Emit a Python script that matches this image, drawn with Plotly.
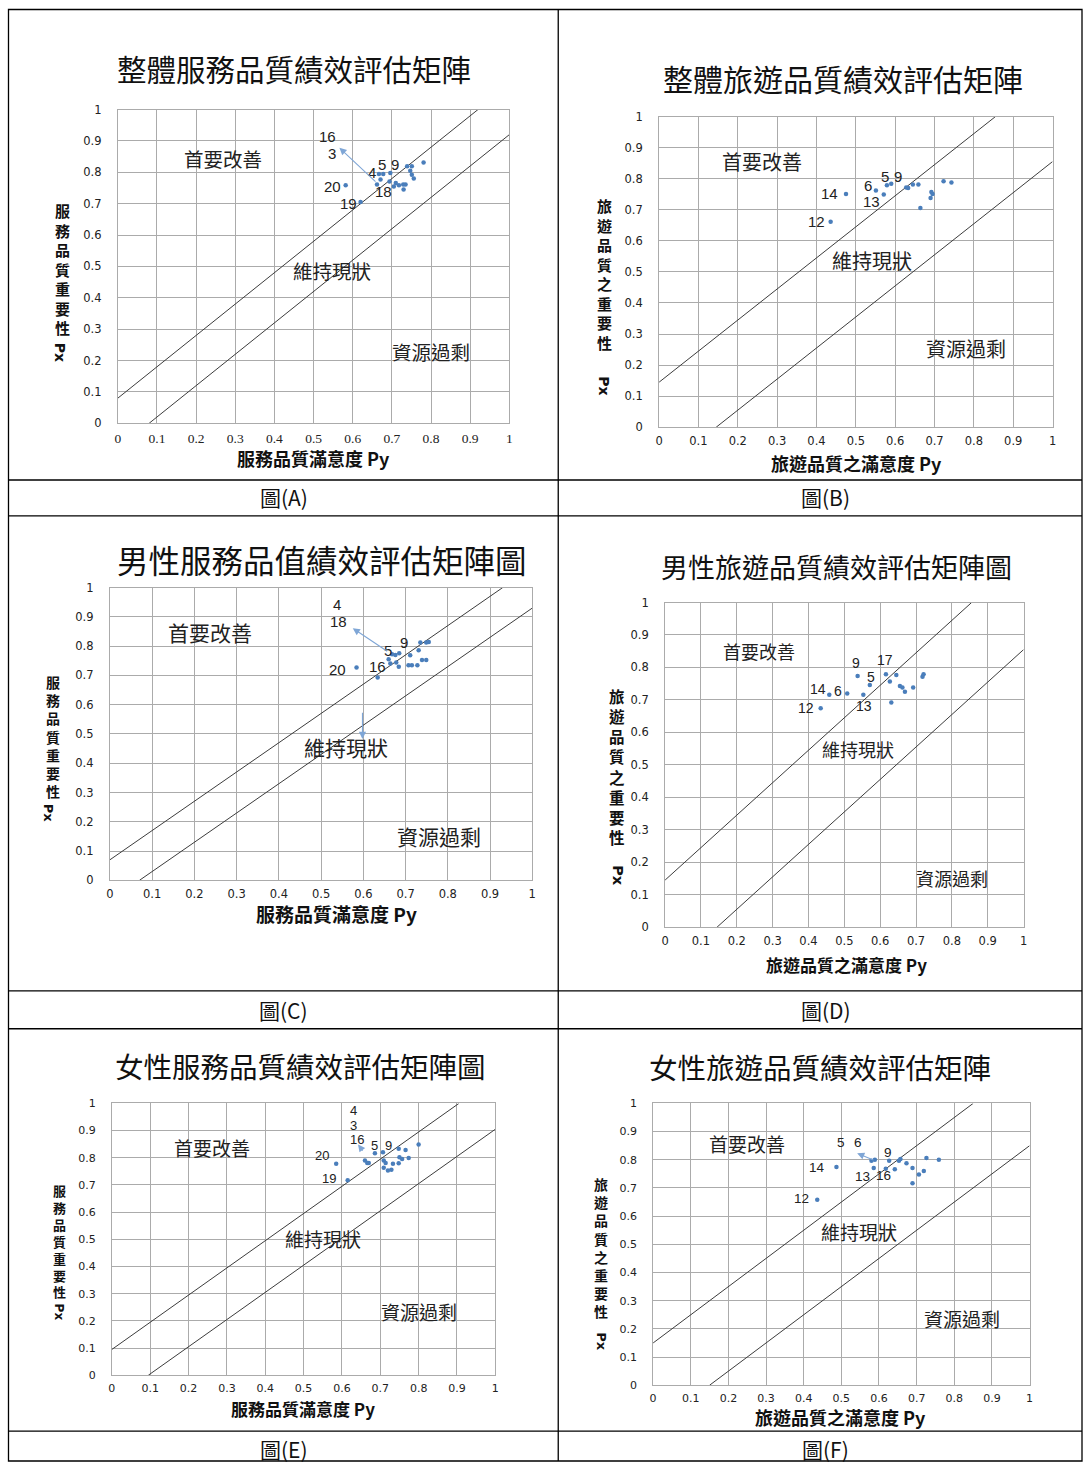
import plotly.graph_objects as go

W, H = 1086, 1468
CJK = "Noto Sans CJK TC"

# ---------------- data ----------------
TICK_VALS = [0, 0.1, 0.2, 0.3, 0.4, 0.5, 0.6, 0.7, 0.8, 0.9, 1]
TICK_TEXT = ["0", "0.1", "0.2", "0.3", "0.4", "0.5", "0.6", "0.7", "0.8", "0.9", "1"]

TITLES = ["整體服務品質績效評估矩陣", "整體旅遊品質績效評估矩陣", "男性服務品值績效評估矩陣圖",
          "男性旅遊品質績效評估矩陣圖", "女性服務品質績效評估矩陣圖", "女性旅遊品質績效評估矩陣"]
CAPTIONS = ["圖(A)", "圖(B)", "圖(C)", "圖(D)", "圖(E)", "圖(F)"]
X_TITLES = ["服務品質滿意度 Py", "旅遊品質之滿意度 Py", "服務品質滿意度 Py",
            "旅遊品質之滿意度 Py", "服務品質滿意度 Py", "旅遊品質之滿意度 Py"]
Y_TITLES = ["服務品質重要性", "旅遊品質之重要性", "服務品質重要性",
            "旅遊品質之重要性", "服務品質重要性", "旅遊品質之重要性"]
REGION_NAMES = ["首要改善", "維持現狀", "資源過剩"]

# diagonal band half-width for each panel
BAND = [0.08, 0.145, 0.07, 0.145, 0.095, 0.15]

A_X = [0.582, 0.620, 0.662, 0.667, 0.671, 0.678, 0.694, 0.696, 0.718, 0.729, 0.735, 0.730, 0.739, 0.751, 0.747, 0.751, 0.756, 0.781, 0.710, 0.705]
A_Y = [0.759, 0.705, 0.761, 0.795, 0.777, 0.795, 0.771, 0.798, 0.759, 0.761, 0.761, 0.745, 0.819, 0.819, 0.805, 0.792, 0.780, 0.831, 0.766, 0.755]

B_X = [0.475, 0.436, 0.551, 0.571, 0.579, 0.590, 0.628, 0.633, 0.645, 0.659, 0.664, 0.692, 0.695, 0.690, 0.723, 0.743]
B_Y = [0.751, 0.661, 0.762, 0.749, 0.779, 0.784, 0.772, 0.770, 0.781, 0.781, 0.706, 0.757, 0.751, 0.738, 0.792, 0.788]

C_X = [0.584, 0.634, 0.668, 0.676, 0.685, 0.664, 0.678, 0.684, 0.711, 0.731, 0.735, 0.749, 0.755, 0.739, 0.749, 0.707, 0.715, 0.728, 0.660]
C_Y = [0.727, 0.693, 0.772, 0.770, 0.776, 0.741, 0.744, 0.730, 0.769, 0.786, 0.812, 0.812, 0.814, 0.753, 0.753, 0.735, 0.735, 0.735, 0.755]

D_X = [0.537, 0.571, 0.616, 0.627, 0.645, 0.655, 0.662, 0.669, 0.692, 0.718, 0.721, 0.631, 0.553, 0.508, 0.458, 0.434]
D_Y = [0.774, 0.746, 0.779, 0.757, 0.777, 0.743, 0.738, 0.725, 0.738, 0.771, 0.779, 0.692, 0.716, 0.720, 0.716, 0.674]

E_X = [0.585, 0.615, 0.660, 0.666, 0.670, 0.686, 0.707, 0.709, 0.714, 0.709, 0.720, 0.729, 0.733, 0.748, 0.766, 0.750, 0.757, 0.774, 0.748, 0.800]
E_Y = [0.778, 0.717, 0.790, 0.781, 0.781, 0.817, 0.820, 0.790, 0.781, 0.763, 0.753, 0.756, 0.778, 0.833, 0.829, 0.802, 0.796, 0.799, 0.780, 0.849]

F_X = [0.487, 0.436, 0.580, 0.589, 0.586, 0.618, 0.627, 0.642, 0.653, 0.657, 0.673, 0.689, 0.689, 0.706, 0.719, 0.726, 0.759]
F_Y = [0.774, 0.658, 0.797, 0.800, 0.771, 0.768, 0.797, 0.766, 0.797, 0.803, 0.788, 0.771, 0.717, 0.748, 0.760, 0.806, 0.800]

# point labels (text, x, y) in data units
A_LABELS = [("16", 0.535, 0.914), ("3", 0.548, 0.860), ("4", 0.648, 0.798), ("5", 0.675, 0.826),
            ("9", 0.709, 0.826), ("20", 0.548, 0.756), ("18", 0.679, 0.740), ("19", 0.589, 0.702)]
B_LABELS = [("5", 0.574, 0.808), ("9", 0.607, 0.808), ("6", 0.530, 0.779), ("14", 0.434, 0.751),
            ("13", 0.540, 0.728), ("12", 0.400, 0.661)]
C_LABELS = [("4", 0.538, 0.942), ("18", 0.542, 0.883), ("9", 0.697, 0.812), ("5", 0.659, 0.786),
            ("16", 0.633, 0.730), ("20", 0.538, 0.721)]
D_LABELS = [("9", 0.532, 0.815), ("17", 0.613, 0.822), ("5", 0.573, 0.772), ("14", 0.427, 0.733),
            ("6", 0.483, 0.728), ("12", 0.393, 0.675), ("13", 0.554, 0.682)]
E_LABELS = [("4", 0.631, 0.975), ("3", 0.631, 0.918), ("16", 0.640, 0.866), ("5", 0.685, 0.845),
            ("9", 0.721, 0.845), ("20", 0.549, 0.808), ("19", 0.566, 0.723)]
F_LABELS = [("5", 0.500, 0.862), ("6", 0.545, 0.862), ("9", 0.624, 0.827), ("14", 0.436, 0.774),
            ("13", 0.556, 0.741), ("16", 0.613, 0.745), ("12", 0.394, 0.664)]

# arrows (tail_x, tail_y, head_x, head_y)
A_ARROWS = [(0.662, 0.766, 0.566, 0.878)]
B_ARROWS = []
C_ARROWS = [(0.660, 0.779, 0.575, 0.861), (0.598, 0.578, 0.598, 0.483)]
D_ARROWS = []
E_ARROWS = [(0.657, 0.821, 0.642, 0.849)]
F_ARROWS = [(0.589, 0.797, 0.542, 0.823)]

# region label positions (data units) per panel: [首要改善, 維持現狀, 資源過剩]
REGION_POS = [
    [(0.268, 0.844), (0.546, 0.486), (0.800, 0.230)],
    [(0.261, 0.856), (0.540, 0.538), (0.779, 0.253)],
    [(0.236, 0.847), (0.558, 0.456), (0.780, 0.150)],
    [(0.262, 0.850), (0.538, 0.549), (0.800, 0.150)],
    [(0.260, 0.839), (0.550, 0.502), (0.800, 0.234)],
    [(0.249, 0.859), (0.546, 0.544), (0.820, 0.237)],
]

# ---------------- layout (pixel geometry) ----------------
PANELS = [
    dict(xs=A_X, ys=A_Y, labels=A_LABELS, arrows=A_ARROWS, box=(117, 509, 108, 423),
         title=(293, 66, 29.5), xt=(313, 458, 18), yt=(62, 268, 15, 60, 352), cap=(283, 497),
         reg_fs=19.5, lab_fs=15, xtick_font=("Liberation Serif", 13.5), ytick_fs=11.5),
    dict(xs=B_X, ys=B_Y, labels=B_LABELS, arrows=B_ARROWS, box=(659, 1053, 115, 427),
         title=(843, 76, 30), xt=(857, 463, 18), yt=(604, 273.5, 15, 603, 385), cap=(826, 497),
         reg_fs=20, lab_fs=15, xtick_font=("DejaVu Sans", 11.5), ytick_fs=11.5),
    dict(xs=C_X, ys=C_Y, labels=C_LABELS, arrows=C_ARROWS, box=(109, 532, 588, 882),
         title=(321, 559, 31.5), xt=(336, 915, 19), yt=(52, 737.5, 14, 47, 815), cap=(283, 1012),
         reg_fs=21, lab_fs=15, xtick_font=("DejaVu Sans", 11.5), ytick_fs=11.5),
    dict(xs=D_X, ys=D_Y, labels=D_LABELS, arrows=D_ARROWS, box=(665, 1024, 603, 929),
         title=(837, 567, 27), xt=(847, 966, 17), yt=(617, 768, 15.5, 617, 877), cap=(826, 1012),
         reg_fs=18, lab_fs=14, xtick_font=("DejaVu Sans", 11.5), ytick_fs=11.5),
    dict(xs=E_X, ys=E_Y, labels=E_LABELS, arrows=E_ARROWS, box=(111, 495, 1106, 1379),
         title=(300, 1068, 28.5), xt=(302, 1412, 17), yt=(59, 1244.5, 13, 59, 1316), cap=(283, 1453),
         reg_fs=19, lab_fs=13, xtick_font=("DejaVu Sans", 11), ytick_fs=11),
    dict(xs=F_X, ys=F_Y, labels=F_LABELS, arrows=F_ARROWS, box=(653, 1030, 1106, 1389),
         title=(820, 1069, 28.5), xt=(841, 1421, 18), yt=(601, 1250.5, 14, 601, 1345), cap=(826, 1453),
         reg_fs=19, lab_fs=13.5, xtick_font=("DejaVu Sans", 11), ytick_fs=11),
]

# compensation for how the page lands in the photograph (measured)
OX, SX = 3.0, 0.994
OY, SY = 5.0, 0.9946


def px(x):
    v = ((x - OX) / SX) / W
    return min(max(v, 0.0), 1.0)


def py(y):
    v = 1 - ((y - OY) / SY) / H
    return min(max(v, 0.0), 1.0)


fig = go.Figure()
annotations = []
shapes = []
layout = {}

GRID = "#ababab"
DOT = "#4a7ebb"
ARROW = "#7fa6d6"
TXT = "#222222"

for i, p in enumerate(PANELS):
    n = i + 1
    xr = "x" if n == 1 else f"x{n}"
    yr = "y" if n == 1 else f"y{n}"
    xa = "xaxis" if n == 1 else f"xaxis{n}"
    ya = "yaxis" if n == 1 else f"yaxis{n}"
    x0, x1, yt_, yb_ = p["box"]
    common = dict(range=[0, 1], tickvals=TICK_VALS, ticktext=TICK_TEXT, showgrid=True,
                  gridcolor=GRID, gridwidth=1, showline=True, linecolor=GRID, linewidth=1,
                  mirror=True, zeroline=False, ticks="", fixedrange=True)
    layout[xa] = dict(common, domain=[px(x0), px(x1)], anchor=yr,
                      tickfont=dict(family=p["xtick_font"][0], size=p["xtick_font"][1], color=TXT),
                      ticklabelstandoff=3)
    layout[ya] = dict(common, domain=[py(yb_), py(yt_)], anchor=xr,
                      tickfont=dict(family="DejaVu Sans", size=p["ytick_fs"], color=TXT),
                      ticklabelstandoff=13)

    b = BAND[i]
    fig.add_trace(go.Scatter(x=[0, 1 - b], y=[b, 1], mode="lines", xaxis=xr, yaxis=yr,
                             line=dict(color="#3c3c3c", width=1), showlegend=False, hoverinfo="skip"))
    fig.add_trace(go.Scatter(x=[b, 1], y=[0, 1 - b], mode="lines", xaxis=xr, yaxis=yr,
                             line=dict(color="#3c3c3c", width=1), showlegend=False, hoverinfo="skip"))
    fig.add_trace(go.Scatter(x=p["xs"], y=p["ys"], mode="markers", xaxis=xr, yaxis=yr,
                             marker=dict(color=DOT, size=4.5), showlegend=False))

    for (t, lx, ly) in p["labels"]:
        annotations.append(dict(x=lx, y=ly, xref=xr, yref=yr, text=t, showarrow=False,
                                font=dict(family="Liberation Sans", size=p["lab_fs"], color=TXT)))
    for (tx, ty, hx, hy) in p["arrows"]:
        annotations.append(dict(x=hx, y=hy, xref=xr, yref=yr, ax=tx, ay=ty, axref=xr, ayref=yr,
                                text="", showarrow=True, arrowhead=2, arrowsize=1.3,
                                arrowwidth=1.1, arrowcolor=ARROW))
    for name, (rx, ry) in zip(REGION_NAMES, REGION_POS[i]):
        annotations.append(dict(x=rx, y=ry, xref=xr, yref=yr, text=name, showarrow=False,
                                font=dict(family=CJK, size=p["reg_fs"], color=TXT)))

    tx_, ty_, tfs = p["title"]
    annotations.append(dict(x=px(tx_), y=py(ty_), xref="paper", yref="paper", text=TITLES[i],
                            showarrow=False, xanchor="center", yanchor="middle",
                            font=dict(family=CJK, size=tfs, color="#111111")))
    xtx, xty, xfs = p["xt"]
    annotations.append(dict(x=px(xtx), y=py(xty), xref="paper", yref="paper",
                            text="<b>" + X_TITLES[i] + "</b>", showarrow=False,
                            xanchor="center", yanchor="middle",
                            font=dict(family=CJK, size=xfs, color="#111111")))
    ytx, yty, yfs, pxx, pxy = p["yt"]
    annotations.append(dict(x=px(ytx), y=py(yty), xref="paper", yref="paper",
                            text="<b>" + "<br>".join(list(Y_TITLES[i])) + "</b>", showarrow=False,
                            xanchor="center", yanchor="middle",
                            font=dict(family=CJK, size=yfs, color="#111111")))
    annotations.append(dict(x=px(pxx), y=py(pxy), xref="paper", yref="paper", text="<b>Px</b>",
                            showarrow=False, textangle=90, xanchor="center", yanchor="middle",
                            font=dict(family="DejaVu Sans", size=yfs - 1, color="#111111")))
    cx, cy = p["cap"]
    annotations.append(dict(x=px(cx), y=py(cy), xref="paper", yref="paper", text=CAPTIONS[i],
                            showarrow=False, xanchor="center", yanchor="middle",
                            font=dict(family=CJK, size=21, color="#111111")))

# table lines
LINE = dict(color="black", width=1.3)
LEFT, RIGHT, TOP, BOTTOM = 7.5, 1085.0, 7.5, 1466.5
shapes.append(dict(type="rect", xref="paper", yref="paper", x0=px(LEFT), x1=px(RIGHT),
                   y0=py(BOTTOM), y1=py(TOP), line=LINE))
for yy in [480, 516, 993, 1031, 1435]:
    shapes.append(dict(type="line", xref="paper", yref="paper", x0=px(LEFT), x1=px(RIGHT),
                       y0=py(yy), y1=py(yy), line=LINE))
shapes.append(dict(type="line", xref="paper", yref="paper", x0=px(558), x1=px(558),
                   y0=py(BOTTOM), y1=py(TOP), line=LINE))

fig.update_layout(width=W, height=H, autosize=False, margin=dict(l=0, r=0, t=0, b=0),
                  paper_bgcolor="white", plot_bgcolor="white", showlegend=False,
                  annotations=annotations, shapes=shapes, **layout)

fig.write_html("out.html", config={"displayModeBar": False},
               post_script="document.body.style.margin='0';document.documentElement.style.overflow='hidden';")
